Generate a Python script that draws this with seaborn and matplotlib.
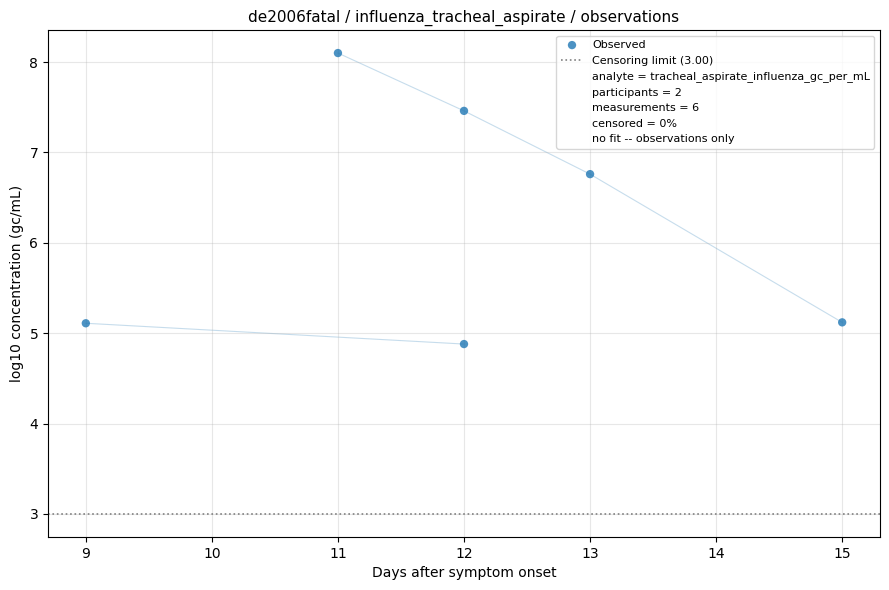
import matplotlib
matplotlib.use("Agg")
import matplotlib.pyplot as plt
import seaborn as sns
import pandas as pd
from matplotlib.lines import Line2D

participants = ["P1", "P1", "P1", "P1", "P2", "P2"]
days = [11, 12, 13, 15, 9, 12]
log_conc = [8.10, 7.46, 6.76, 5.12, 5.11, 4.88]
censor_limit = 3.0
info_lines = [
    "analyte = tracheal_aspirate_influenza_gc_per_mL",
    "participants = 2",
    "measurements = 6",
    "censored = 0%",
    "no fit -- observations only",
]

df = pd.DataFrame({"participant": participants, "day": days, "value": log_conc})

fig, ax = plt.subplots(figsize=(8.89, 5.9), dpi=100)

for pid, g in df.groupby("participant"):
    g = g.sort_values("day")
    ax.plot(g["day"], g["value"], color="#1f77b4", alpha=0.25, linewidth=0.8, zorder=1)

sns.scatterplot(data=df, x="day", y="value", ax=ax, color="#1f77b4", alpha=0.8,
                s=36, edgecolor="none", label="Observed", zorder=3)
ax.axhline(censor_limit, color="grey", linestyle=":", linewidth=1.2,
           label=f"Censoring limit ({censor_limit:.2f})", zorder=2)

ax.grid(True, alpha=0.3)
ax.set_xlabel("Days after symptom onset", fontsize=10)
ax.set_ylabel("log10 concentration (gc/mL)", fontsize=10)
ax.set_title("de2006fatal / influenza_tracheal_aspirate / observations", fontsize=11)

handles, labels = ax.get_legend_handles_labels()
for t in info_lines:
    handles.append(Line2D([], [], linestyle="none", marker=None))
    labels.append(t)
ax.legend(handles, labels, loc="upper right", fontsize=8)

fig.subplots_adjust(left=48/889, right=880/889, top=1-30/590, bottom=1-537/590)
fig.savefig("out.png", dpi=100)
